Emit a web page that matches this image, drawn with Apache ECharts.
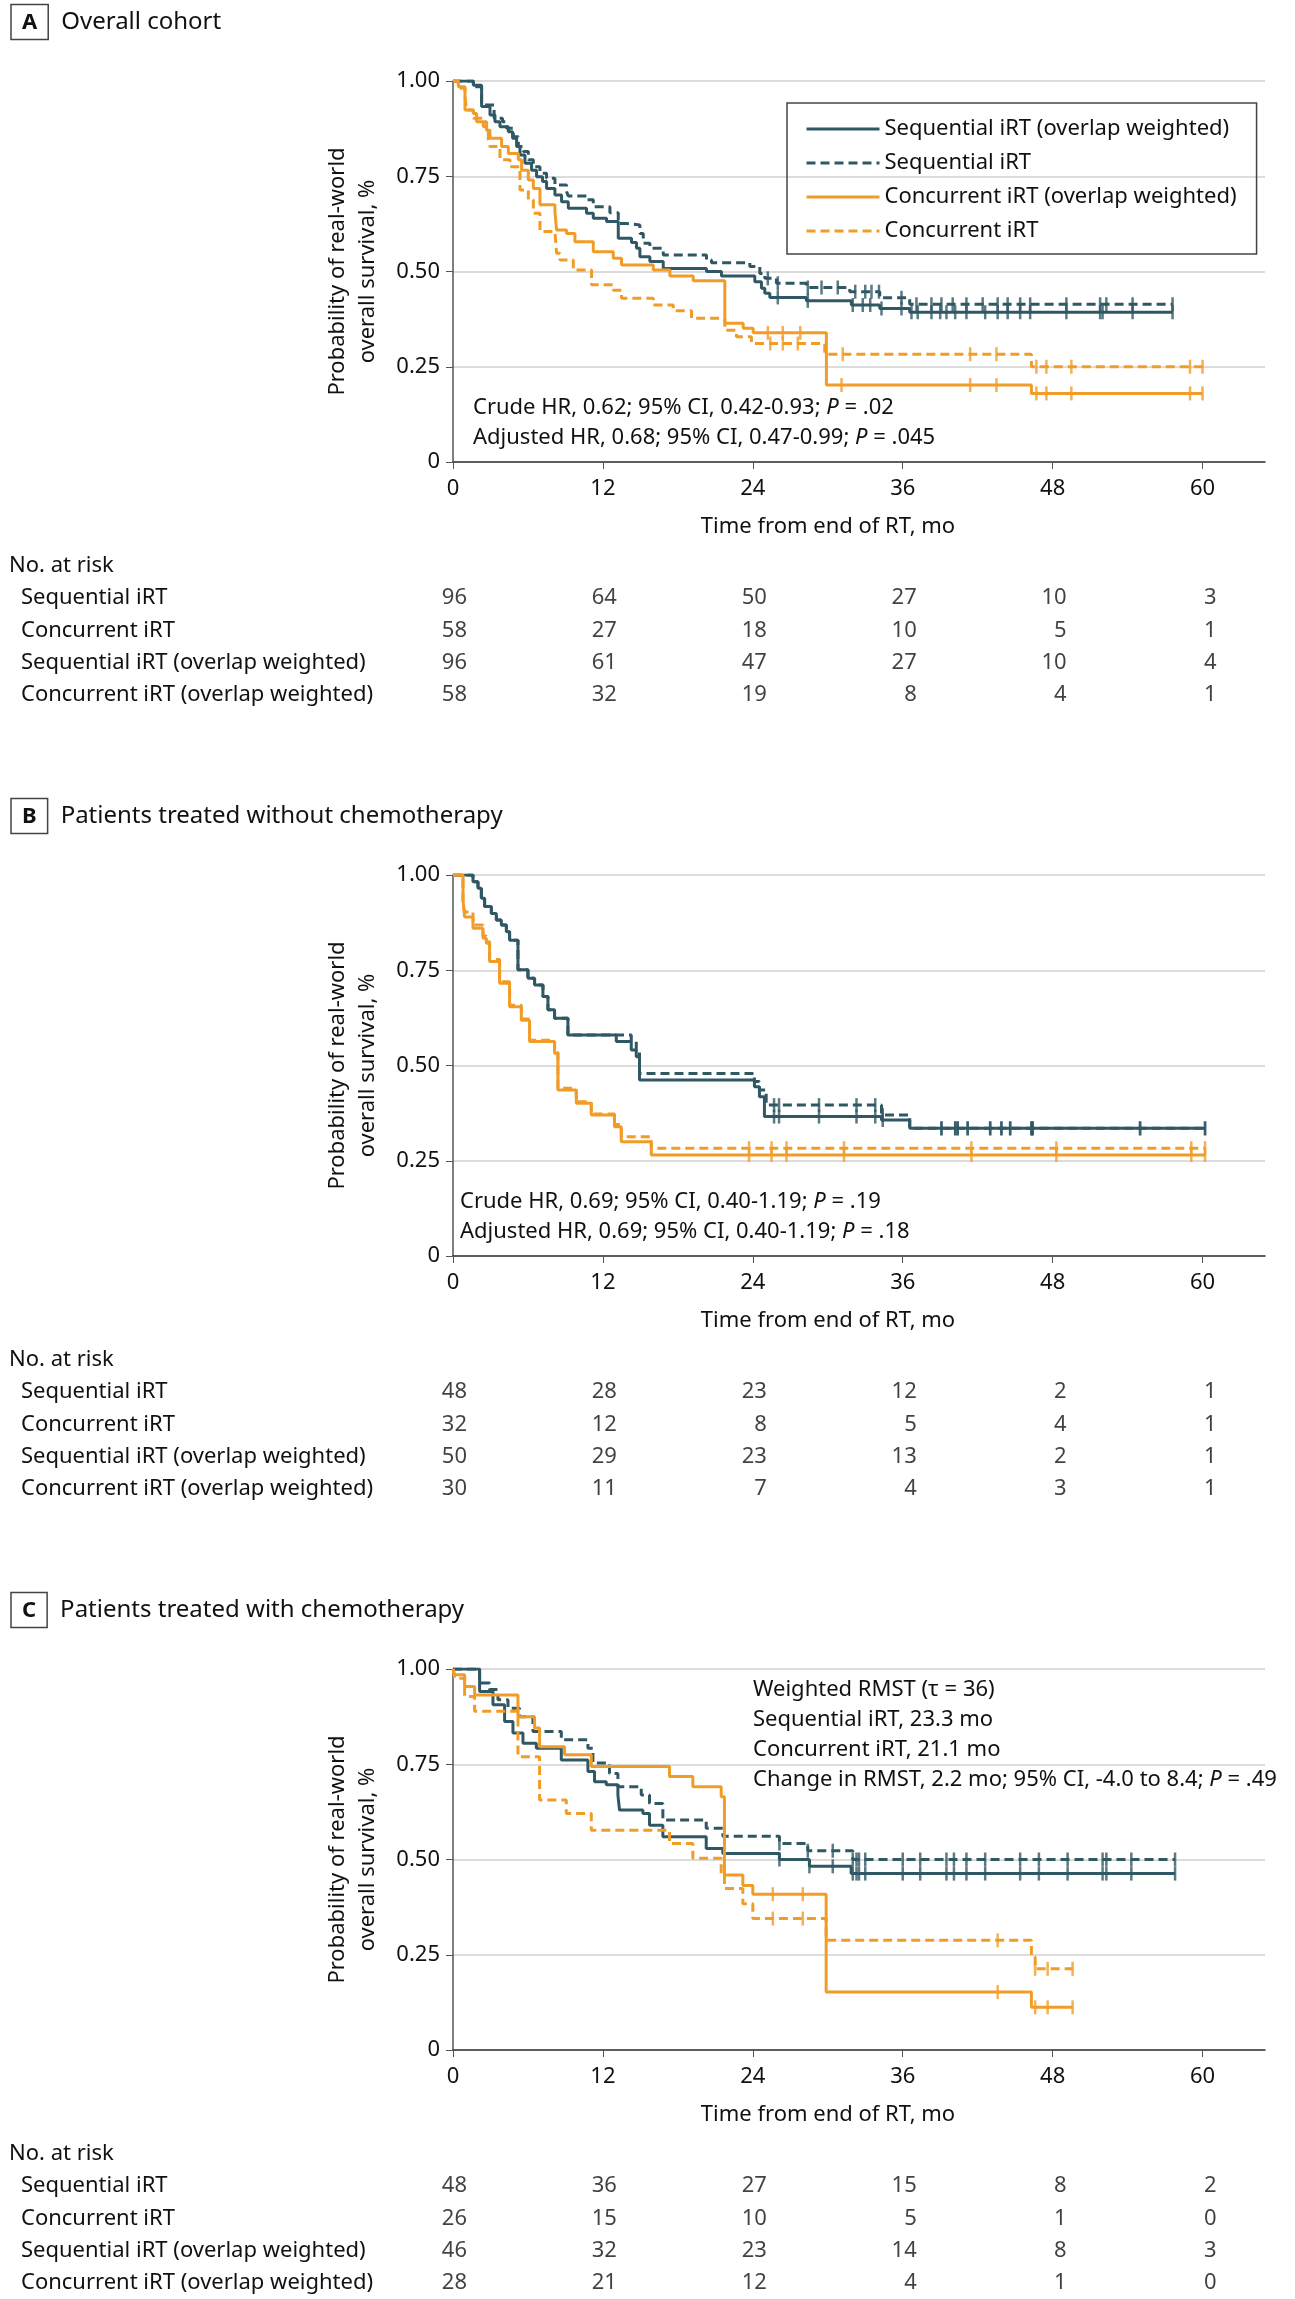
<!DOCTYPE html>
<html>
<head>
    <meta charset="utf-8">
    <title>Real-world overall survival, sequential vs concurrent iRT</title>
    <script src="https://cdn.jsdelivr.net/npm/echarts@6/dist/echarts.min.js"></script>
    <style>
        body, html { margin: 0; padding: 0; background: #fff; }
        #main { width: 1295px; height: 2299px; }
    </style>
</head>
<body>
    <div id="main"></div>
    <script>
        // x-axis ticks (months) and risk table
        const monthTicks = [0, 12, 24, 36, 48, 60];
        const riskRows = ['Sequential iRT', 'Concurrent iRT', 'Sequential iRT (overlap weighted)', 'Concurrent iRT (overlap weighted)'];
        const seriesNames = ['Sequential iRT (overlap weighted)', 'Sequential iRT', 'Concurrent iRT (overlap weighted)', 'Concurrent iRT'];

        // A: overall cohort  [month, survival]
        const aSeqOW = [[0,1],[1.63,0.989],[2.29,0.933],[2.96,0.911],[3.36,0.893],[3.76,0.880],[4.43,0.867],[4.77,0.850],[5.09,0.828],[5.36,0.806],[5.76,0.784],[6.29,0.766],[6.69,0.749],[7.17,0.736],[7.49,0.718],[8.16,0.701],[8.69,0.683],[9.23,0.666],[10.69,0.653],[11.23,0.640],[12.29,0.631],[13.23,0.587],[14.29,0.576],[14.69,0.561],[14.96,0.539],[15.76,0.526],[16.83,0.508],[20.29,0.500],[21.49,0.488],[24.16,0.473],[24.69,0.456],[24.96,0.443],[25.36,0.432],[28.29,0.423],[31.89,0.412],[34.16,0.403],[36.56,0.393],[57.6,0.393]];
        const aSeq = [[0,1],[1.63,0.985],[2.29,0.937],[3.29,0.902],[3.96,0.893],[4.29,0.876],[4.83,0.854],[5.23,0.828],[5.63,0.815],[6.03,0.793],[6.43,0.775],[6.96,0.758],[7.49,0.745],[8.16,0.727],[9.09,0.710],[9.23,0.698],[10.69,0.688],[11.23,0.670],[12.56,0.654],[13.23,0.626],[13.89,0.622],[14.96,0.600],[15.23,0.574],[15.76,0.561],[16.83,0.543],[20.29,0.530],[20.69,0.523],[23.76,0.513],[24.56,0.495],[24.96,0.482],[25.89,0.469],[28.29,0.458],[31.76,0.447],[34.16,0.431],[36.56,0.414],[57.6,0.414]];
        const aConOW = [[0,1],[0.43,0.985],[0.96,0.924],[1.63,0.915],[1.89,0.893],[2.69,0.871],[2.96,0.850],[3.89,0.828],[4.43,0.810],[5.23,0.793],[5.49,0.766],[6.03,0.740],[6.43,0.718],[6.96,0.675],[8.16,0.657],[8.29,0.609],[9.09,0.600],[9.76,0.578],[11.23,0.552],[12.83,0.535],[13.49,0.517],[16.03,0.504],[17.36,0.488],[19.23,0.476],[21.76,0.364],[23.23,0.351],[24.03,0.339],[29.89,0.202],[46.3,0.180],[60,0.180]];
        const aCon = [[0,1],[0.43,0.981],[0.96,0.959],[1.09,0.924],[1.63,0.902],[2.43,0.880],[2.83,0.845],[2.96,0.828],[3.76,0.793],[4.56,0.775],[5.36,0.714],[6.03,0.688],[6.43,0.653],[6.96,0.605],[8.16,0.600],[8.29,0.548],[8.56,0.530],[9.63,0.504],[11.09,0.465],[12.83,0.451],[13.49,0.430],[16.03,0.412],[17.63,0.397],[19.09,0.377],[21.76,0.346],[22.69,0.329],[23.89,0.311],[29.76,0.283],[46.3,0.250],[60,0.250]];
        const aSeqOWCens = [26.0, 28.4, 32.0, 32.8, 33.4, 34.3, 35.9, 36.7, 37.2, 38.3, 39.0, 39.5, 40.2, 41.1, 42.6, 43.6, 44.4, 45.4, 46.2, 49.1, 51.8, 52.0, 54.4, 57.6];
        const aSeqCens = [25.2, 26.0, 28.4, 29.5, 30.8, 32.2, 33.0, 33.5, 34.1, 35.9, 37.1, 38.3, 39.1, 40.0, 41.1, 42.4, 43.6, 44.4, 45.4, 46.2, 49.1, 51.8, 52.3, 54.4, 57.6];
        const aConOWCens = [25.2, 26.4, 27.8, 31.1, 41.4, 43.5, 46.7, 47.5, 49.5, 59.0, 60.0];
        const aConCens = [25.4, 26.4, 27.6, 31.2, 41.4, 43.5, 46.7, 47.5, 49.5, 59.0, 60.0];
        const aRisk = [[96, 64, 50, 27, 10, 3], [58, 27, 18, 10, 5, 1], [96, 61, 47, 27, 10, 4], [58, 32, 19, 8, 4, 1]];

        // B: without chemotherapy
        const bSeqOW = [[0,1],[1.6,0.982],[2.0,0.965],[2.27,0.939],[2.53,0.917],[3.07,0.899],[3.47,0.882],[3.87,0.869],[4.27,0.851],[4.53,0.829],[5.2,0.751],[6.0,0.729],[6.53,0.711],[7.2,0.681],[7.6,0.646],[8.13,0.624],[9.2,0.580],[13.07,0.563],[14.27,0.541],[14.67,0.523],[14.93,0.462],[24.13,0.444],[24.53,0.418],[24.93,0.366],[34.3,0.357],[36.56,0.335],[60.2,0.335]];
        const bSeq = [[0,1],[1.6,0.982],[2.0,0.965],[2.27,0.939],[2.53,0.917],[3.07,0.899],[3.47,0.882],[3.87,0.869],[4.27,0.851],[4.53,0.829],[5.2,0.751],[6.0,0.729],[6.53,0.711],[7.2,0.681],[7.6,0.646],[8.13,0.624],[9.2,0.580],[14.27,0.563],[14.67,0.536],[14.93,0.479],[24.13,0.458],[24.53,0.436],[25.07,0.396],[34.3,0.370],[36.56,0.335],[60.2,0.335]];
        const bConOW = [[0,1],[0.8,0.934],[0.93,0.890],[1.6,0.860],[2.4,0.834],[2.67,0.821],[2.93,0.773],[3.73,0.716],[4.53,0.654],[5.47,0.619],[6.13,0.563],[8.13,0.532],[8.4,0.436],[9.87,0.401],[11.07,0.370],[12.93,0.339],[13.47,0.300],[15.87,0.265],[60.2,0.265]];
        const bCon = [[0,1],[0.8,0.925],[0.93,0.903],[1.6,0.869],[2.4,0.840],[2.67,0.825],[2.93,0.778],[3.73,0.720],[4.53,0.658],[5.47,0.622],[6.13,0.566],[8.13,0.535],[8.4,0.440],[9.87,0.405],[11.07,0.373],[12.93,0.345],[13.47,0.313],[15.87,0.283],[60.2,0.283]];
        const bSeqOWCens = [25.7, 26.1, 29.3, 32.3, 33.8, 34.4, 39.1, 40.2, 40.4, 41.2, 43.0, 43.9, 44.6, 46.3, 46.4, 55.0, 60.2];
        const bSeqCens = [25.7, 26.1, 29.3, 32.3, 33.8, 34.4, 39.1, 40.2, 40.4, 41.2, 43.0, 43.9, 44.6, 46.3, 46.4, 55.0, 60.2];
        const bConOWCens = [23.7, 25.5, 26.7, 31.3, 41.5, 48.3, 59.1, 60.2];
        const bConCens = [23.7, 25.5, 26.7, 31.3, 41.5, 48.3, 59.1, 60.2];
        const bRisk = [[48, 28, 23, 12, 2, 1], [32, 12, 8, 5, 4, 1], [50, 29, 23, 13, 2, 1], [30, 11, 7, 4, 3, 1]];

        // C: with chemotherapy
        const cSeqOW = [[0,1],[2.13,0.941],[3.2,0.906],[4.13,0.862],[4.8,0.832],[5.6,0.805],[6.67,0.792],[8.67,0.761],[10.8,0.731],[11.33,0.704],[12.27,0.696],[13.2,0.669],[13.33,0.630],[15.2,0.621],[15.73,0.590],[16.8,0.560],[20.27,0.529],[21.6,0.516],[26.13,0.500],[28.53,0.482],[31.87,0.463],[57.8,0.463]];
        const cSeq = [[0,1],[2.13,0.963],[2.93,0.946],[3.6,0.919],[4.4,0.897],[5.33,0.875],[6.4,0.836],[8.67,0.814],[10.8,0.792],[11.2,0.753],[12.53,0.726],[13.2,0.691],[15.07,0.669],[15.73,0.647],[16.8,0.604],[20.27,0.582],[21.6,0.561],[26.13,0.542],[28.4,0.523],[32.0,0.500],[57.8,0.500]];
        const cConOW = [[0,1],[0.13,0.985],[0.93,0.954],[1.73,0.932],[5.2,0.875],[6.53,0.845],[6.93,0.796],[8.93,0.775],[11.07,0.744],[17.33,0.718],[19.2,0.691],[21.47,0.665],[21.73,0.459],[23.2,0.432],[24.0,0.409],[29.87,0.152],[46.3,0.112],[49.6,0.112]];
        const cCon = [[0,1],[0.13,0.976],[0.93,0.928],[1.73,0.889],[5.2,0.770],[6.93,0.656],[9.07,0.621],[11.07,0.577],[17.33,0.542],[19.2,0.503],[21.47,0.459],[21.73,0.424],[23.2,0.384],[24.0,0.345],[29.87,0.288],[46.3,0.245],[46.6,0.213],[49.6,0.213]];
        const cSeqOWCens = [26.13, 28.53, 30.4, 32.0, 32.3, 32.5, 33.0, 36.0, 37.4, 39.5, 40.1, 41.1, 42.6, 45.4, 46.9, 49.2, 52.0, 52.3, 54.3, 57.8];
        const cSeqCens = [26.13, 28.4, 30.4, 32.0, 32.3, 32.5, 33.0, 36.0, 37.4, 39.5, 40.1, 41.1, 42.6, 45.4, 46.9, 49.2, 52.0, 52.3, 54.3, 57.8];
        const cConOWCens = [25.6, 28.0, 43.6, 46.6, 47.6, 49.6];
        const cConCens = [25.6, 28.0, 43.6, 46.6, 47.6, 49.6];
        const cRisk = [[48, 36, 27, 15, 8, 2], [26, 15, 10, 5, 1, 0], [46, 32, 23, 14, 8, 3], [28, 21, 12, 4, 1, 0]];

        const teal = '#2f5864';
        const orange = '#f29c28';
        const font = 'Noto Sans';
        const ink = '#111';

        // survival value of a step curve at time t
        function survAt(curve, t) {
            let s = 1;
            for (const p of curve) { if (p[0] <= t) s = p[1]; }
            return s;
        }

        const panels = [
            { curves: [aSeqOW, aSeq, aConOW, aCon], cens: [aSeqOWCens, aSeqCens, aConOWCens, aConCens], risk: aRisk },
            { curves: [bSeqOW, bSeq, bConOW, bCon], cens: [bSeqOWCens, bSeqCens, bConOWCens, bConCens], risk: bRisk },
            { curves: [cSeqOW, cSeq, cConOW, cCon], cens: [cSeqOWCens, cSeqCens, cConOWCens, cConCens], risk: cRisk }
        ];
        const offsets = [0, 794, 1588];
        const styles = [[teal, false], [teal, true], [orange, false], [orange, true]];

        const grid = [], xAxis = [], yAxis = [], series = [];
        panels.forEach((p, i) => {
            const o = offsets[i];
            // survival plot
            grid.push({ left: 453, top: 81 + o, width: 812, height: 381 });
            xAxis.push({
                type: 'value', gridIndex: 2 * i, min: 0, max: 65, interval: 12,
                axisLine: { lineStyle: { color: '#333', width: 1.5 } },
                axisTick: { length: 7, customValues: monthTicks, lineStyle: { color: '#555' } },
                axisLabel: { customValues: monthTicks, margin: 16, fontSize: 22, color: ink, fontFamily: font },
                splitLine: { show: false },
                name: 'Time from end of RT, mo', nameLocation: 'middle', nameGap: 54,
                nameTextStyle: { fontSize: 22, color: ink, fontFamily: font, padding: [0, 62, 0, 0] }
            });
            yAxis.push({
                type: 'value', gridIndex: 2 * i, min: 0, max: 1, interval: 0.25,
                axisLine: { show: true, lineStyle: { color: '#555', width: 1.5 } },
                axisTick: { show: true, length: 7, lineStyle: { color: '#555' } },
                axisLabel: { margin: 13, fontSize: 22, color: ink, fontFamily: font,
                    formatter: v => v === 0 ? '0' : v.toFixed(2) },
                splitLine: { lineStyle: { color: '#dcdcdc', width: 2 } },
                name: 'Probability of real-world\noverall survival, %', nameLocation: 'middle', nameGap: 70,
                nameTextStyle: { fontSize: 22, lineHeight: 30, color: ink, fontFamily: font }
            });
            p.curves.forEach((c, k) => {
                const [color, dashed] = styles[k];
                series.push({
                    type: 'line', name: seriesNames[k], xAxisIndex: 2 * i, yAxisIndex: 2 * i,
                    data: c, step: 'end', symbol: 'none', showSymbol: false,
                    lineStyle: { color: color, width: 3, type: dashed ? [9, 5] : 'solid' },
                    itemStyle: { color: color }, z: 3
                });
                series.push({
                    type: 'scatter', name: seriesNames[k] + ' (censored)', xAxisIndex: 2 * i, yAxisIndex: 2 * i,
                    data: p.cens[k].map(t => [t, survAt(c, t)]),
                    symbol: 'rect', symbolSize: [2.5, 14], itemStyle: { color: color }, z: 4, silent: true
                });
            });
            // risk table
            grid.push({ left: 453, top: 582 + o, width: 812, height: 129 });
            xAxis.push({ type: 'value', gridIndex: 2 * i + 1, min: 0, max: 65, show: false });
            yAxis.push({
                type: 'category', gridIndex: 2 * i + 1, data: riskRows, inverse: true,
                axisLine: { show: false }, axisTick: { show: false }, splitLine: { show: false },
                axisLabel: { align: 'left', margin: 432, fontSize: 22, color: ink, fontFamily: font }
            });
            const riskData = [];
            p.risk.forEach((row, r) => row.forEach((n, j) => riskData.push([monthTicks[j], r, n])));
            series.push({
                type: 'scatter', xAxisIndex: 2 * i + 1, yAxisIndex: 2 * i + 1, data: riskData,
                symbolSize: 1, itemStyle: { color: 'rgba(0,0,0,0)' }, silent: true,
                label: { show: true, position: 'inside', align: 'right', offset: [14, 0],
                    formatter: d => d.value[2], fontSize: 22, color: ink, fontFamily: font }
            });
        });

        const headerRich = {
            b: { fontWeight: 'bold', fontSize: 22, color: ink, fontFamily: font, borderColor: '#444', borderWidth: 1.5,
                padding: [7, 11, 6, 11], lineHeight: 24 },
            t: { fontSize: 24, fontWeight: 'normal', color: ink, fontFamily: font, padding: [0, 0, 0, 13] }
        };
        const noteStyle = { fontSize: 22, lineHeight: 30, color: ink, fontFamily: font, fontWeight: 'normal',
            rich: { i: { fontStyle: 'italic', fontSize: 22, lineHeight: 30, color: ink, fontFamily: font } } };
        const headers = ['A', 'B', 'C'];
        const headerText = ['Overall cohort', 'Patients treated without chemotherapy', 'Patients treated with chemotherapy'];
        const notes = [
            'Crude HR, 0.62; 95% CI, 0.42-0.93; {i|P} = .02\nAdjusted HR, 0.68; 95% CI, 0.47-0.99; {i|P} = .045',
            'Crude HR, 0.69; 95% CI, 0.40-1.19; {i|P} = .19\nAdjusted HR, 0.69; 95% CI, 0.40-1.19; {i|P} = .18',
            'Weighted RMST (\u03c4 = 36)\nSequential iRT, 23.3 mo\nConcurrent iRT, 21.1 mo\nChange in RMST, 2.2 mo; 95% CI, -4.0 to 8.4; {i|P} = .49'
        ];
        const notePos = [[473, 393], [460, 1187], [753, 1675]];

        const title = [];
        headers.forEach((h, i) => {
            const o = offsets[i];
            title.push({ left: 6, top: 5 + o, text: '{b|' + h + '}{t|' + headerText[i] + '}',
                textStyle: { fontWeight: 'normal', rich: headerRich } });
            title.push({ left: 4, top: 550 + o, text: 'No. at risk', textStyle: { fontSize: 22, color: ink, fontFamily: font, fontWeight: 'normal' } });
            title.push({ left: notePos[i][0], top: notePos[i][1], text: notes[i], padding: 0, textStyle: noteStyle });
        });

        const chart = echarts.init(document.getElementById('main'));
        chart.setOption({
            animation: false,
            backgroundColor: '#fff',
            textStyle: { fontFamily: font },
            title: title,
            legend: {
                data: seriesNames, orient: 'vertical', left: 787, top: 103,
                itemWidth: 73, itemHeight: 14, itemGap: 12,
                padding: [15, 20, 12, 18],
                borderColor: '#444', borderWidth: 1.5,
                itemStyle: { opacity: 0 },
                lineStyle: { width: 3 },
                textStyle: { fontSize: 22, color: ink, fontFamily: font },
                selectedMode: false
            },
            grid: grid,
            xAxis: xAxis,
            yAxis: yAxis,
            series: series
        });
    </script>
</body>
</html>
